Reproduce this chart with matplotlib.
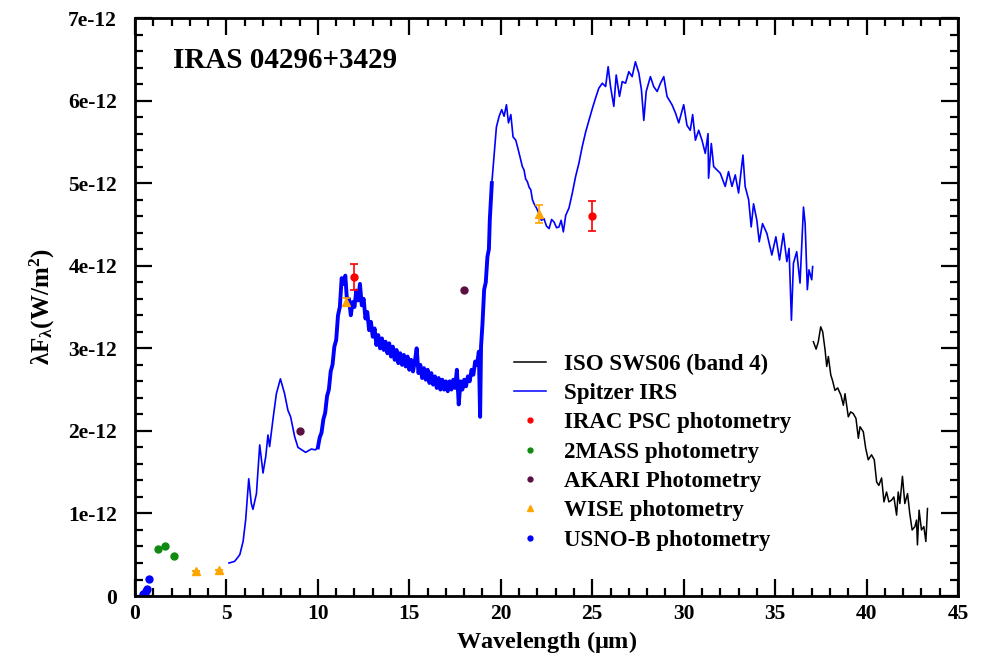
import matplotlib
matplotlib.use("Agg")
import matplotlib.pyplot as plt
from matplotlib.ticker import MultipleLocator, FixedLocator, FuncFormatter
from matplotlib.lines import Line2D
import numpy as np

plt.rcParams['font.family'] = ['Liberation Serif', 'DejaVu Serif']
plt.rcParams['font.weight'] = 'bold'
plt.rcParams['mathtext.fontset'] = 'custom'
plt.rcParams['mathtext.rm'] = 'Liberation Serif:bold'
plt.rcParams['mathtext.it'] = 'Liberation Serif:bold'
plt.rcParams['mathtext.bf'] = 'Liberation Serif:bold'

SCALE = 1e-12

# ---- Spitzer IRS spectrum (wavelength in um, flux in 1e-12 W/m^2) ----
irs_wave = [5.14, 5.45, 5.73, 5.91, 6.05, 6.22, 6.36, 6.45, 6.64, 6.82, 7.0, 7.15, 7.27, 7.36,
            7.55, 7.73, 7.95, 8.18, 8.36, 8.51, 8.73, 8.91, 9.33, 9.64, 9.87,
            10.0, 10.1, 10.2, 10.3, 10.4, 10.5, 10.6, 10.7, 10.8, 10.9, 11.0, 11.1, 11.2, 11.3,
            11.4, 11.5, 11.6, 11.7, 11.8, 11.9, 12.0, 12.1, 12.2, 12.3, 12.4, 12.5, 12.6, 12.7,
            12.8, 12.9, 13.0, 13.1, 13.2, 13.3, 13.4, 13.5, 13.6, 13.7, 13.8, 13.9, 14.0, 14.1,
            14.2, 14.3, 14.4, 14.5, 14.6, 14.7, 14.8, 14.9, 15.0, 15.1, 15.2, 15.3, 15.4, 15.5,
            15.6, 15.7, 15.8, 15.9, 16.0, 16.1, 16.2, 16.3, 16.4, 16.5, 16.6, 16.7, 16.8, 16.9,
            17.0, 17.1, 17.2, 17.3, 17.4, 17.5, 17.6, 17.7, 17.8, 17.9, 18.0, 18.1, 18.2, 18.3,
            18.4, 18.5, 18.6, 18.7, 18.8, 18.87, 18.92, 19.0, 19.09, 19.18, 19.27, 19.35, 19.4,
            19.51, 19.64, 19.76, 19.91, 20.05, 20.18, 20.31, 20.42, 20.55, 20.67, 20.82, 20.96,
            21.09, 21.18, 21.27, 21.36, 21.45, 21.55, 21.64, 21.73, 21.82, 21.95, 22.09, 22.22,
            22.36, 22.5, 22.64, 22.78, 22.91, 23.05, 23.18, 23.3, 23.42, 23.55,
            23.73, 23.91, 24.09, 24.27, 24.45, 24.64, 24.82, 25.0, 25.18, 25.36, 25.55, 25.73,
            25.87, 26.0, 26.18, 26.31, 26.49, 26.64, 26.82, 27.0, 27.18, 27.36, 27.55, 27.69,
            27.82, 27.95, 28.18, 28.36, 28.55, 28.73, 28.91, 29.09, 29.36, 29.55, 29.73, 30.0,
            30.18, 30.36, 30.49, 30.64, 30.82, 31.0, 31.18, 31.33, 31.36, 31.51, 31.64, 31.82,
            32.0, 32.27, 32.45, 32.64, 32.82, 33.0, 33.24, 33.36, 33.55, 33.69, 33.82, 34.0,
            34.13, 34.31, 34.55, 34.82, 35.04, 35.24, 35.45, 35.64, 35.76, 35.89, 36.0, 36.18,
            36.36, 36.55, 36.64, 36.76, 36.85, 37.0, 37.05]
irs_flux = [0.40, 0.42, 0.50, 0.66, 0.92, 1.42, 1.12, 1.05, 1.24, 1.83, 1.49, 1.69, 1.95, 1.81,
            2.15, 2.45, 2.63, 2.45, 2.25, 2.17, 1.93, 1.80, 1.74, 1.78, 1.77,
            1.80, 1.92, 1.98, 2.14, 2.22, 2.42, 2.50, 2.72, 2.80, 3.02, 3.10, 3.40, 3.50, 3.85,
            3.78, 3.88, 3.55, 3.60, 3.40, 3.56, 3.50, 3.70, 3.58, 3.78, 3.52, 3.60, 3.36, 3.44,
            3.22, 3.32, 3.14, 3.24, 3.04, 3.16, 3.00, 3.12, 2.98, 3.08, 2.94, 3.06, 2.90, 3.02,
            2.86, 2.98, 2.82, 2.94, 2.80, 2.92, 2.78, 2.90, 2.74, 2.86, 2.72, 2.84, 3.00, 2.70,
            2.80, 2.64, 2.76, 2.62, 2.74, 2.58, 2.70, 2.56, 2.66, 2.52, 2.64, 2.50, 2.62, 2.50,
            2.60, 2.48, 2.60, 2.50, 2.62, 2.52, 2.74, 2.32, 2.60, 2.50, 2.62, 2.54, 2.66, 2.60,
            2.74, 2.68, 2.84, 2.80, 2.96, 2.17, 3.02, 3.30, 3.71, 3.80, 4.11, 4.20, 4.56,
            5.00, 5.36, 5.68, 5.81, 5.89, 5.81, 5.95, 5.73, 5.83, 5.56, 5.52, 5.40,
            5.28, 5.20, 5.16, 5.05, 5.02, 4.95, 4.92, 4.80, 4.75, 4.70, 4.63, 4.55,
            4.57, 4.48, 4.45, 4.56, 4.53, 4.46, 4.47, 4.55, 4.41, 4.61,
            4.70, 4.88, 5.08, 5.24, 5.44, 5.62, 5.76, 5.90, 6.03, 6.15, 6.21, 6.17,
            6.41, 6.17, 5.93, 6.31, 6.05, 6.23, 6.21, 6.35, 6.29, 6.47, 6.33, 6.13,
            5.76, 6.11, 6.29, 6.17, 6.11, 6.21, 6.29, 6.05, 5.95, 5.85, 5.73, 5.95,
            5.70, 5.64, 5.83, 5.52, 5.64, 5.52, 5.36, 5.60, 5.06, 5.48, 5.20, 5.16,
            5.12, 4.96, 5.14, 4.96, 5.10, 4.88, 5.34, 4.96, 4.80, 4.47, 4.75, 4.55,
            4.29, 4.51, 4.39, 4.13, 4.35, 4.07, 4.39, 4.05, 4.21, 3.34, 4.03, 4.17,
            3.79, 4.71, 4.51, 3.71, 3.95, 3.83, 3.99]
# wavelength range of the high-resolution (noisy) IRS module
irs_hires_range = (10.0, 19.6)

# ---- ISO SWS06 band 4 ----
iso_wave = [37.09, 37.24, 37.36, 37.49, 37.60, 37.73, 37.82, 37.91, 38.04, 38.15, 38.27, 38.42,
            38.60, 38.73, 38.82, 39.00, 39.13, 39.27, 39.42, 39.55, 39.64, 39.82, 39.95, 40.09,
            40.27, 40.42, 40.55, 40.67, 40.82, 40.95, 41.09, 41.22, 41.36, 41.49, 41.64, 41.73,
            41.82, 41.96, 42.09, 42.24, 42.36, 42.49, 42.64, 42.73, 42.78, 42.87, 43.00, 43.13,
            43.24, 43.33]
iso_flux = [3.08, 2.99, 3.08, 3.26, 3.20, 2.98, 2.78, 2.90, 2.68, 2.60, 2.49, 2.52,
            2.43, 2.31, 2.45, 2.17, 2.23, 2.21, 2.15, 1.91, 2.05, 1.99, 1.79, 1.65,
            1.71, 1.65, 1.38, 1.34, 1.43, 1.14, 1.26, 1.14, 1.16, 1.20, 0.98, 1.26,
            1.12, 1.45, 1.12, 1.24, 1.00, 0.80, 0.84, 0.92, 0.62, 1.04, 0.80, 0.84,
            0.66, 1.06]

# ---- Photometry ----
irac_wave = [12.0, 25.0]
irac_flux = [3.86, 4.60]
irac_err = [0.155, 0.18]

mass_wave = [1.235, 1.662, 2.159]
mass_flux = [0.57, 0.61, 0.48]

akari_wave = [9.0, 18.0]
akari_flux = [2.00, 3.71]

wise_wave = [3.35, 4.6, 11.56, 22.09]
wise_flux = [0.30, 0.315, 3.56, 4.63]
wise_err = [0.0, 0.0, 0.05, 0.11]

usno_wave = [0.44, 0.48, 0.58, 0.64, 0.76]
usno_flux = [0.02, 0.03, 0.06, 0.08, 0.21]

# axis ticks
x_ticks = [0, 5, 10, 15, 20, 25, 30, 35, 40, 45]
y_ticks = [0, 1, 2, 3, 4, 5, 6, 7]   # in units of 1e-12

C_IRS = '#0000ff'
C_IRAC = '#ff0000'
C_2MASS = '#108a10'
C_AKARI = '#5a0f40'
C_WISE = '#ffa500'
C_USNO = '#0000ff'


def s(v):
    return np.asarray(v) * SCALE


fig = plt.figure(figsize=(9.81, 6.57), dpi=100)
ax = fig.add_axes([0.1376, 0.0928, 0.839, 0.8798])

ax.plot(iso_wave, s(iso_flux), color='black', lw=1.1)
ax.plot(irs_wave, s(irs_flux), color=C_IRS, lw=1.2)
w = np.asarray(irs_wave)
m = (w >= irs_hires_range[0]) & (w <= irs_hires_range[1])
ax.plot(w[m], s(np.asarray(irs_flux)[m]), color=C_IRS, lw=2.8)

ax.errorbar(irac_wave, s(irac_flux), yerr=s(irac_err), fmt='o', color=C_IRAC, ms=5,
            capsize=3, elinewidth=1.2, capthick=1.2)
ax.plot(mass_wave, s(mass_flux), 'o', color=C_2MASS, ms=5)
ax.plot(akari_wave, s(akari_flux), 'o', color=C_AKARI, ms=5)
ax.errorbar(wise_wave, s(wise_flux), yerr=s(wise_err), fmt='^', color=C_WISE, ms=5.5,
            capsize=3, elinewidth=1.2, capthick=1.2)
ax.plot(usno_wave, s(usno_flux), 'o', color=C_USNO, ms=5)

ax.set_xlim(x_ticks[0], x_ticks[-1])
ax.set_ylim(y_ticks[0] * SCALE, y_ticks[-1] * SCALE)
ax.xaxis.set_major_locator(FixedLocator(x_ticks))
ax.xaxis.set_minor_locator(MultipleLocator(1))
ax.yaxis.set_major_locator(FixedLocator(list(s(y_ticks))))
ax.yaxis.set_minor_locator(MultipleLocator(0.2e-12))


def yfmt(v, pos):
    n = int(round(v / SCALE))
    return '0' if n == 0 else f'{n}e-12'


ax.yaxis.set_major_formatter(FuncFormatter(yfmt))
ax.tick_params(which='both', direction='in', top=True, right=True, width=1.6)
ax.tick_params(which='major', length=12, labelsize=15.5)
ax.tick_params(axis='y', which='major', pad=13)
ax.tick_params(axis='x', which='major', pad=6)
ax.tick_params(which='minor', length=6)
for sp in ax.spines.values():
    sp.set_linewidth(2.0)
for lab in ax.get_xticklabels() + ax.get_yticklabels():
    lab.set_fontweight('bold')

ax.set_xlabel(r'Wavelength ($\mu$m)', fontsize=17.5, fontweight='bold', labelpad=3)
ax.set_ylabel(r'$\lambda$F$_\lambda$(W/m$^2$)', fontsize=18, fontweight='bold', labelpad=8)

ax.text(0.046, 0.926, 'IRAS 04296+3429', transform=ax.transAxes, fontsize=21,
        fontweight='bold', va='center', ha='left')

handles = [
    Line2D([], [], color='black', lw=1.1),
    Line2D([], [], color=C_IRS, lw=1.1),
    Line2D([], [], ls='none', marker='o', color=C_IRAC, ms=3.5),
    Line2D([], [], ls='none', marker='o', color=C_2MASS, ms=3.5),
    Line2D([], [], ls='none', marker='o', color=C_AKARI, ms=3.5),
    Line2D([], [], ls='none', marker='^', color=C_WISE, ms=3.8),
    Line2D([], [], ls='none', marker='o', color=C_USNO, ms=3.5),
]
labels = ['ISO SWS06 (band 4)', 'Spitzer IRS', 'IRAC PSC photometry', '2MASS photometry',
          'AKARI Photometry', 'WISE photometry', 'USNO-B photometry']
leg = ax.legend(handles, labels, loc='upper left', bbox_to_anchor=(0.4355, 0.455),
                frameon=False, fontsize=16.5, handlelength=1.4, handletextpad=0.8,
                labelspacing=0.36, numpoints=1)
for t in leg.get_texts():
    t.set_fontweight('bold')

fig.savefig('out.png', dpi=100)
